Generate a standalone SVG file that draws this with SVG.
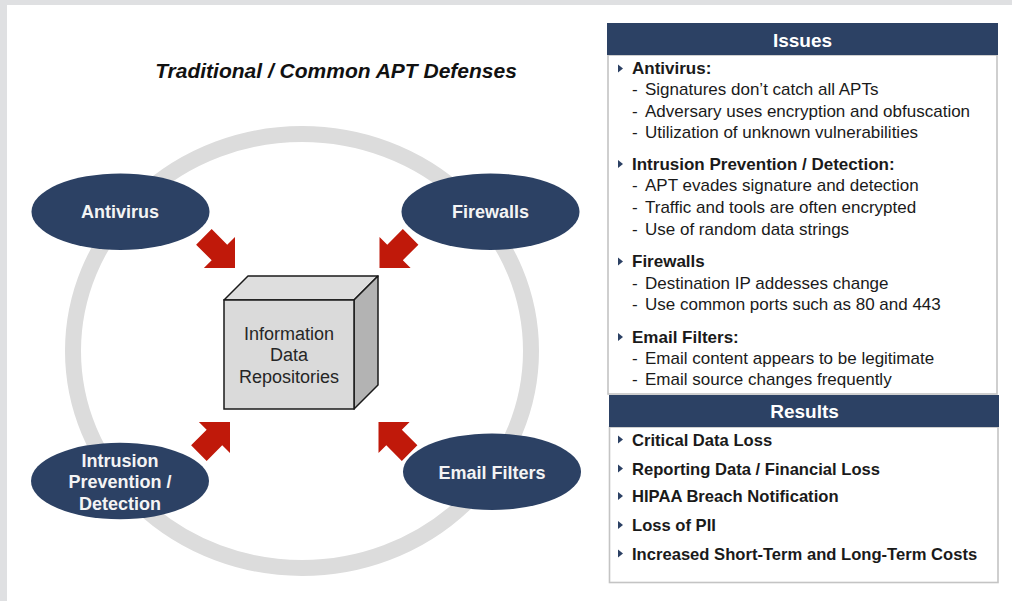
<svg xmlns="http://www.w3.org/2000/svg" xmlns:xlink="http://www.w3.org/1999/xlink" width="1012" height="601" viewBox="0 0 1012 601">
<style>
.node{fill:#2c4164}
.nt{font-family:"Liberation Sans",Arial,sans-serif;font-weight:bold;font-size:18px;fill:#f4f4f4;text-anchor:middle}
.bt{font-family:"Liberation Sans",Arial,sans-serif;font-size:18px;fill:#262626;text-anchor:middle}
.hd{fill:#2c4164}
.ht{font-family:"Liberation Sans",Arial,sans-serif;font-weight:bold;font-size:19px;fill:#ffffff;text-anchor:middle}
.pb{fill:#ffffff;stroke:#c4c4c4;stroke-width:1.6}
.it{font-family:"Liberation Sans",Arial,sans-serif;font-size:17px;fill:#1a1a1a}
.ib{font-family:"Liberation Sans",Arial,sans-serif;font-size:17px;font-weight:bold;fill:#1a1a1a}
.rb{font-family:"Liberation Sans",Arial,sans-serif;font-size:16.6px;font-weight:bold;fill:#1a1a1a}
.arrow{fill:#c0190a}
.bul{fill:#2c4164}
</style>
<defs>
<polygon id="arr" points="0,0 -22,-22 -22,-11 -44,-11 -44,11 -22,11 -22,22"/>
<path id="bl" d="M0,-4 L5,0 L0,4Z"/>
</defs>
<rect x="0" y="0" width="1012" height="601" fill="#dfe0e2"/>
<rect x="7" y="5" width="1005" height="596" fill="#ffffff"/>
<text x="336" y="78" font-family="'Liberation Sans',Arial,sans-serif" font-size="21" font-weight="bold" font-style="italic" fill="#111" text-anchor="middle">Traditional / Common APT Defenses</text>
<ellipse cx="302" cy="351" rx="229" ry="217" fill="none" stroke="#dcdcdc" stroke-width="16"/>
<g id="connectors">
<use xlink:href="#arr" class="arrow" transform="translate(235,268) rotate(45)"/>
<use xlink:href="#arr" class="arrow" transform="translate(379.5,268) rotate(135)"/>
<use xlink:href="#arr" class="arrow" transform="translate(230,422) rotate(-45)"/>
<use xlink:href="#arr" class="arrow" transform="translate(378.5,422) rotate(-135)"/>
</g>
<g id="repository">
<polygon points="224,300 248,276 378,276 354,300" fill="#dedede" stroke="#1a1a1a" stroke-width="1.5" stroke-linejoin="round"/>
<polygon points="354,300 378,276 378,385 354,409" fill="#b3b3b3" stroke="#1a1a1a" stroke-width="1.5" stroke-linejoin="round"/>
<rect x="224" y="300" width="130" height="109" fill="#dadada" stroke="#1a1a1a" stroke-width="1.5"/>
<text class="bt" x="289" y="339.5">Information</text>
<text class="bt" x="289" y="361">Data</text>
<text class="bt" x="289" y="382.5">Repositories</text>
</g>
<g id="antivirus">
<ellipse class="node" cx="120.5" cy="211.7" rx="89" ry="38.3"/>
<text class="nt" x="120" y="218">Antivirus</text>
</g>
<g id="firewalls">
<ellipse class="node" cx="490.5" cy="211.7" rx="89" ry="38.3"/>
<text class="nt" x="490.5" y="218">Firewalls</text>
</g>
<g id="intrusion">
<ellipse class="node" cx="120" cy="481" rx="89" ry="38.3"/>
<text class="nt" x="120" y="466.5">Intrusion</text>
<text class="nt" x="120" y="488">Prevention /</text>
<text class="nt" x="120" y="509.7">Detection</text>
</g>
<g id="email-filters">
<ellipse class="node" cx="492" cy="471.7" rx="89" ry="38.3"/>
<text class="nt" x="492" y="479">Email Filters</text>
</g>
<g id="issues">
<rect class="pb" x="608" y="55" width="389" height="339"/>
<rect class="hd" x="607" y="23" width="391" height="32"/>
<text class="ht" x="802.5" y="46.5">Issues</text>
<use xlink:href="#bl" class="bul" x="618" y="68.5"/>
<text class="ib" x="632" y="74">Antivirus:</text>
<text class="it" x="632" y="95">-<tspan x="645">Signatures don’t catch all APTs</tspan></text>
<text class="it" x="632" y="116.5">-<tspan x="645">Adversary uses encryption and obfuscation</tspan></text>
<text class="it" x="632" y="137.5">-<tspan x="645">Utilization of unknown vulnerabilities</tspan></text>
<use xlink:href="#bl" class="bul" x="618" y="164"/>
<text class="ib" x="632" y="169.5">Intrusion Prevention / Detection:</text>
<text class="it" x="632" y="191">-<tspan x="645">APT evades signature and detection</tspan></text>
<text class="it" x="632" y="213">-<tspan x="645">Traffic and tools are often encrypted</tspan></text>
<text class="it" x="632" y="234.5">-<tspan x="645">Use of random data strings</tspan></text>
<use xlink:href="#bl" class="bul" x="618" y="261.5"/>
<text class="ib" x="632" y="267">Firewalls</text>
<text class="it" x="632" y="288.5">-<tspan x="645">Destination IP addesses change</tspan></text>
<text class="it" x="632" y="309.5">-<tspan x="645">Use common ports such as 80 and 443</tspan></text>
<use xlink:href="#bl" class="bul" x="618" y="337"/>
<text class="ib" x="632" y="342.5">Email Filters:</text>
<text class="it" x="632" y="364">-<tspan x="645">Email content appears to be legitimate</tspan></text>
<text class="it" x="632" y="385">-<tspan x="645">Email source changes frequently</tspan></text>
</g>
<g id="results">
<rect class="pb" x="609.5" y="427" width="388.5" height="155.5"/>
<rect class="hd" x="609" y="395" width="390" height="32"/>
<text class="ht" x="804.5" y="418">Results</text>
<use xlink:href="#bl" class="bul" x="618" y="439.5"/>
<text class="rb" x="632" y="445.5">Critical Data Loss</text>
<use xlink:href="#bl" class="bul" x="618" y="468.5"/>
<text class="rb" x="632" y="474.5">Reporting Data / Financial Loss</text>
<use xlink:href="#bl" class="bul" x="618" y="496"/>
<text class="rb" x="632" y="502">HIPAA Breach Notification</text>
<use xlink:href="#bl" class="bul" x="618" y="525"/>
<text class="rb" x="632" y="531">Loss of PII</text>
<use xlink:href="#bl" class="bul" x="618" y="553.5"/>
<text class="rb" x="632" y="559.5">Increased Short-Term and Long-Term Costs</text>
</g>
</svg>
